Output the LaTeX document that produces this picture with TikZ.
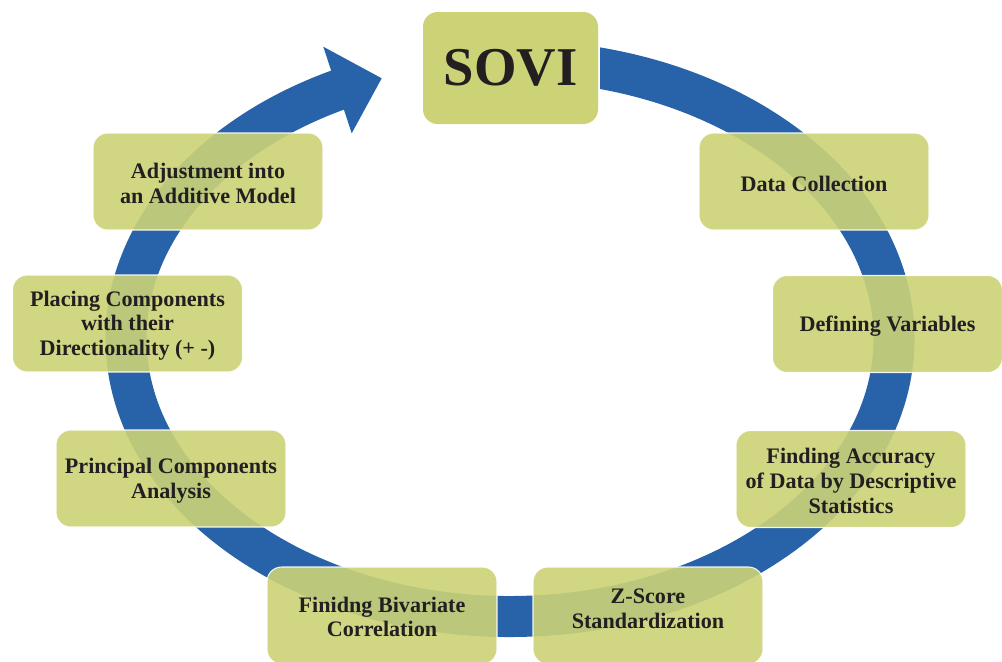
\documentclass[tikz,border=0pt]{standalone}
\usepackage{fontspec}
\setmainfont{Liberation Serif}
\definecolor{ringblue}{RGB}{40,98,168}
\definecolor{boxgreen}{RGB}{204,210,118}
\definecolor{ink}{RGB}{35,31,32}
\begin{document}
\begin{tikzpicture}[x=0.75pt,y=-0.75pt,
  stagetext/.style={align=center, text=ink, inner sep=0pt,
    font=\fontsize{16.6}{18.5}\selectfont\bfseries},
  stagebox/.style={stagetext, draw=white, line width=0.8pt, fill=boxgreen,
    fill opacity=0.9, draw opacity=0.9, text opacity=1,
    rounded corners=11pt, minimum width=172.5pt, minimum height=72.75pt},
  titlebox/.style={fill=boxgreen, rounded corners=11pt, inner sep=0pt,
    minimum width=131.25pt, minimum height=84pt, text=ink,
    font=\fontsize{41}{45}\selectfont\bfseries},
  ring/.style={draw=ringblue, line width=30.75pt}]
\useasboundingbox (0,0) rectangle (1002,661);

% cycle ring, cut square next to the title box
\begin{scope}
  \clip (0,0) -- (400,0) -- (400,150) -- (600,150) -- (600,0) -- (1002,0)
        -- (1002,661) -- (0,661) -- cycle;
  \draw[ring] (510,338.5) ++(-95:384 and 278)
    arc[start angle=-95, end angle=245, x radius=384, y radius=278];
\end{scope}
% arrowhead at the end of the ring
\fill[ringblue] (323.3,46.7) -- (381.7,78.3) -- (351.7,133.3) -- cycle;

% title
\node[titlebox] (sovi) at (510.5,68) {SOVI};

% stages (box first, text slightly below its centre)
\node[stagebox] (collect)  at (814,181.5)   {};
\node[stagebox] (define)   at (887.5,324)   {};
\node[stagebox] (accuracy) at (851,479)     {};
\node[stagebox] (zscore)   at (648,615.5)   {};
\node[stagebox] (bivar)    at (382,615.5)   {};
\node[stagebox] (pca)      at (171,478.5)   {};
\node[stagebox] (placing)  at (127.5,323.5) {};
\node[stagebox] (additive) at (208,181.5)   {};

\node[stagetext] at ([yshift=-2pt]collect.center)  {Data Collection};
\node[stagetext] at ([yshift=-1.5pt]define.center) {Defining Variables};
\node[stagetext] at ([yshift=-1.5pt]accuracy.center) {Finding Accuracy\\of Data by Descriptive\\Statistics};
\node[stagetext] at ([yshift=5pt]zscore.center)    {Z-Score\\Standardization};
\node[stagetext] at ([yshift=-1pt]bivar.center)    {Finidng Bivariate\\Correlation};
\node[stagetext] at ([yshift=-1.5pt]pca.center)    {Principal Components\\Analysis};
\node[stagetext] at ([yshift=-1.5pt]placing.center) {Placing Components\\with their\\Directionality (+ -)};
\node[stagetext] at ([yshift=-1.5pt]additive.center) {Adjustment into\\an Additive Model};
\end{tikzpicture}
\end{document}
